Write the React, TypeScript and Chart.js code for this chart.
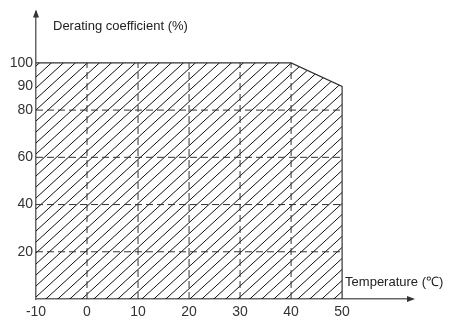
import React, { useEffect, useRef } from "react";
import { Chart, registerables } from "chart.js";

Chart.register(...registerables);

// Data
const temperatures = [-10, 40, 50, 50];
const derating = [100, 100, 90, 0];
const xTickValues = [-10, 0, 10, 20, 30, 40, 50];
const yTickValues = [20, 40, 60, 80, 90, 100];
const gridTemps = [0, 10, 20, 30, 40];
const gridLevels = [20, 40, 60, 80];
const xTitle = "Temperature (℃)";
const yTitle = "Derating coefficient (%)";

const FONT = "'Liberation Sans', Arial, sans-serif";

function makeHatch(): CanvasPattern | string {
  const w = 12;
  const h = 11;
  const c = document.createElement("canvas");
  c.width = w;
  c.height = h;
  const ctx = c.getContext("2d");
  if (!ctx) return "rgba(0,0,0,0.2)";
  ctx.strokeStyle = "#111";
  ctx.lineWidth = 1;
  for (let k = -1; k <= 1; k++) {
    ctx.beginPath();
    ctx.moveTo(k * w - w, 2 * h);
    ctx.lineTo(k * w + 2 * w, -h);
    ctx.stroke();
  }
  return ctx.createPattern(c, "repeat") || "rgba(0,0,0,0.2)";
}

const axesPlugin = {
  id: "axesDecor",
  afterDraw(chart: any) {
    const { ctx, chartArea } = chart;
    const x = chart.scales.x;
    const y = chart.scales.y;
    const x0 = x.getPixelForValue(-10);
    const y0 = y.getPixelForValue(0);
    ctx.save();
    ctx.fillStyle = "#333";
    // y arrow
    ctx.beginPath();
    ctx.moveTo(x0, chartArea.top - 2);
    ctx.lineTo(x0 - 3, chartArea.top + 6);
    ctx.lineTo(x0 + 3, chartArea.top + 6);
    ctx.closePath();
    ctx.fill();
    // x arrow
    ctx.beginPath();
    ctx.moveTo(chartArea.right + 3, y0);
    ctx.lineTo(chartArea.right - 5, y0 - 3);
    ctx.lineTo(chartArea.right - 5, y0 + 3);
    ctx.closePath();
    ctx.fill();
    // titles
    ctx.fillStyle = "#222";
    ctx.font = `13px ${FONT}`;
    ctx.textBaseline = "middle";
    ctx.textAlign = "left";
    ctx.fillText(yTitle, x0 + 17, 26);
    ctx.fillText(xTitle, x.getPixelForValue(50) + 3, y0 - 17);
    ctx.restore();
  },
};

export default function App() {
  const ref = useRef<HTMLCanvasElement | null>(null);
  useEffect(() => {
    document.body.style.margin = "0";
    if (!ref.current) return;
    const dash = [7, 4];
    const gridSets: any[] = [];
    gridTemps.forEach((t) => {
      gridSets.push({
        data: [
          { x: t, y: 0 },
          { x: t, y: 100 },
        ],
        borderColor: "#333",
        borderWidth: 1,
        borderDash: dash,
        pointRadius: 0,
        fill: false,
      });
    });
    gridLevels.forEach((l) => {
      gridSets.push({
        data: [
          { x: -10, y: l },
          { x: 50, y: l },
        ],
        borderColor: "#333",
        borderWidth: 1,
        borderDash: dash,
        pointRadius: 0,
        fill: false,
      });
    });
    const mainSet = {
      data: temperatures.map((t, i) => ({ x: t, y: derating[i] })),
      borderColor: "#333",
      borderWidth: 1.2,
      pointRadius: 0,
      fill: "origin",
      backgroundColor: makeHatch(),
      tension: 0,
    };
    const chart = new Chart(ref.current, {
      type: "line",
      data: { datasets: [...gridSets, mainSet] },
      options: {
        animation: false,
        responsive: false,
        layout: { padding: { top: 8, right: 44, left: 0, bottom: 0 } },
        plugins: { legend: { display: false }, tooltip: { enabled: false } },
        scales: {
          x: {
            type: "linear",
            min: -10,
            max: 63.7,
            grid: { display: false, drawTicks: false, tickLength: 0 },
            border: { display: true, color: "#666", width: 1.5 },
            afterBuildTicks: (s: any) => {
              s.ticks = xTickValues.map((v) => ({ value: v }));
            },
            afterFit: (s: any) => {
              s.height = 22;
            },
            ticks: {
              color: "#333",
              padding: 5,
              maxRotation: 0,
              autoSkip: false,
              font: { family: FONT, size: 14 },
            },
          },
          y: {
            type: "linear",
            min: 0,
            max: 121.8,
            grid: { display: false, drawTicks: false, tickLength: 0 },
            border: { display: true, color: "#666", width: 1.5 },
            afterBuildTicks: (s: any) => {
              s.ticks = yTickValues.map((v) => ({ value: v }));
            },
            afterFit: (s: any) => {
              s.width = 36;
            },
            ticks: {
              color: "#333",
              padding: 3,
              autoSkip: false,
              font: { family: FONT, size: 14 },
            },
          },
        },
      },
      plugins: [axesPlugin],
    });
    return () => chart.destroy();
  }, []);
  return <canvas ref={ref} width={456} height={321} />;
}
